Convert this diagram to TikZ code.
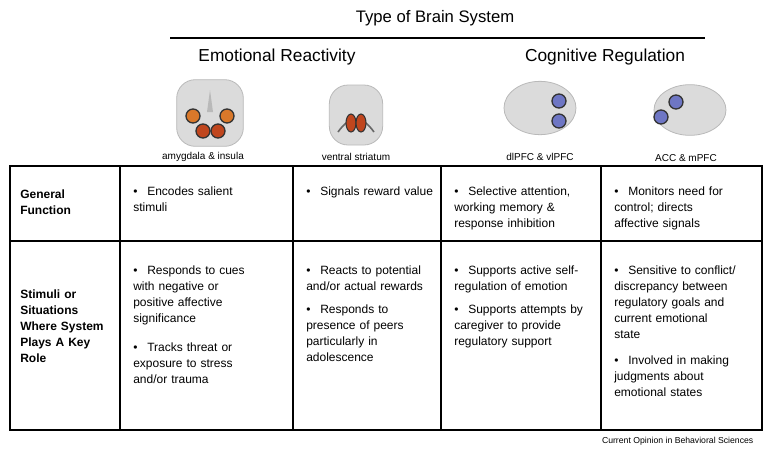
\documentclass[tikz,border=0pt]{standalone}
\usepackage{fontspec}
\setmainfont{Liberation Sans}
\usetikzlibrary{shapes.geometric}
\definecolor{amyg}{HTML}{D9782A}
\definecolor{ins}{HTML}{C0461E}
\definecolor{pfc}{HTML}{6E76C4}
\begin{document}
\begin{tikzpicture}[x=0.75pt,y=-0.75pt,
  hd/.style={font=\fontsize{13}{15}\selectfont},
  lab/.style={font=\fontsize{7.5}{9}\selectfont},
  rowh/.style={font=\fontsize{9}{12}\selectfont\bfseries,anchor=north west,text width=90pt,inner sep=0pt,align=left},
  cell/.style={font=\fontsize{9}{12}\selectfont,anchor=north west,text width=125pt,inner sep=0pt,align=left},
  brain/.style={fill=gray!28,draw=gray!55,line width=0.6pt},
  spot/.style={draw=black!80,line width=1pt},
  grid/.style={line width=0.8pt}]
\useasboundingbox (0,0) rectangle (772,454);
\node[hd,font=\fontsize{12.5}{15}\selectfont] (title) at (435,18) {Type of Brain System};
\draw[line width=0.8pt] (170,38) -- (705,38);
\node[hd] (er) at (277,57) {Emotional Reactivity};
\node[hd] (cr) at (605,57) {Cognitive Regulation};
% brain 1 coronal
\node[brain,rounded corners=14pt,minimum width=50pt,minimum height=50pt] (b1) at (210,113) {};
\fill[gray!55] (210,90) -- (207,112) -- (213,112) -- cycle;
\draw[spot,fill=amyg] (193,116) circle (7);
\draw[spot,fill=amyg] (227,116) circle (7);
\draw[spot,fill=ins] (203,131) circle (7);
\draw[spot,fill=ins] (218,131) circle (7);
% brain 2 coronal
\node[brain,rounded corners=14pt,minimum width=40pt,minimum height=45pt] (b2) at (356,115) {};
\draw[line width=1.2pt,black!60] (338,132) .. controls (350,115) and (362,115) .. (374,132);
\draw[spot,fill=ins,line width=0.8pt] (351,123) ellipse (5 and 9);
\draw[spot,fill=ins,line width=0.8pt] (361,123) ellipse (5 and 9);
% brain 3 lateral
\node[brain,ellipse,minimum width=54pt,minimum height=40pt] (b3) at (540,108) {};
\draw[spot,fill=pfc] (559,101) circle (7);
\draw[spot,fill=pfc] (559,121) circle (7);
% brain 4 medial
\node[brain,ellipse,minimum width=54pt,minimum height=38pt] (b4) at (690,110) {};
\draw[spot,fill=pfc] (661,117) circle (7);
\draw[spot,fill=pfc] (676,102) circle (7);
\node[lab] (l1) at (203,157) {amygdala \& insula};
\node[lab] (l2) at (356,157) {ventral striatum};
\node[lab] (l3) at (540,157) {dlPFC \& vlPFC};
\node[lab] (l4) at (686,158) {ACC \& mPFC};
% table
\draw[grid] (10,166) rectangle (762,430);
\draw[grid] (10,241) -- (762,241);
\foreach \x in {120,293,441,601} \draw[grid] (\x,166) -- (\x,430);
\node[rowh] (g) at (20,190) {General\\Function};
\node[rowh] (s) at (20,290) {Stimuli or\\Situations\\Where System\\Plays A Key\\Role};
\newcommand\bt[4]{\node[cell] (#1) at (#2,#3)
  {\hangindent=10.5pt\hangafter=1\makebox[10.5pt][l]{\textbullet}#4};}
\bt{a1}{133}{187}{Encodes salient\\stimuli}
\bt{a2}{306}{187}{Signals reward value}
\bt{a3}{454}{187}{Selective attention,\\working memory \&\\response inhibition}
\bt{a4}{614}{187}{Monitors need for\\control; directs\\affective signals}
\bt{c1}{133}{266}{Responds to cues\\with negative or\\positive affective\\significance}
\bt{c2}{133}{343}{Tracks threat or\\exposure to stress\\and/or trauma}
\bt{d1}{306}{266}{Reacts to potential\\and/or actual rewards}
\bt{d2}{306}{305}{Responds to\\presence of peers\\particularly in\\adolescence}
\bt{e1}{454}{266}{Supports active self-\\regulation of emotion}
\bt{e2}{454}{305}{Supports attempts by\\caregiver to provide\\regulatory support}
\bt{f1}{614}{266}{Sensitive to conflict/\\discrepancy between\\regulatory goals and\\current emotional\\state}
\bt{f2}{614}{356}{Involved in making\\judgments about\\emotional states}
\node[anchor=east,font=\fontsize{6.5}{8}\selectfont] (src) at (758,441) {Current Opinion in Behavioral Sciences};
\end{tikzpicture}
\end{document}
